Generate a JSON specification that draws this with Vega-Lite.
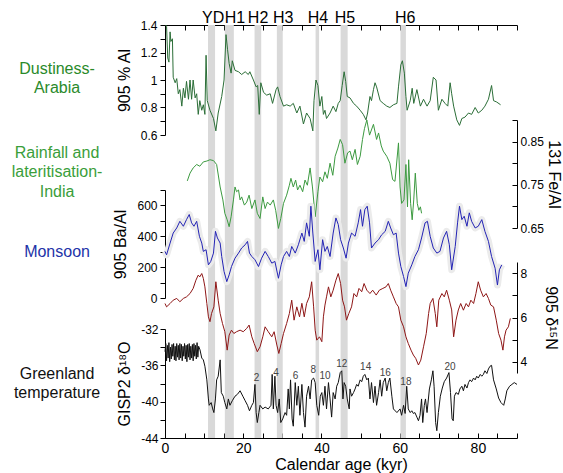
{
"$schema": "https://vega.github.io/schema/vega-lite/v6.json",
"width": 352, "height": 413,
"autosize": {"type": "none"},
"padding": {"left": 165, "top": 25, "right": 46, "bottom": 35},
"config": {"view": {"stroke": null}, "font": "Liberation Sans",
  "axis": {"grid": false, "domainColor": "#000000", "tickColor": "#000000", "domainWidth": 1, "tickWidth": 1, "labelColor": "#000", "titleColor": "#000", "titleFontWeight": "normal", "labelOverlap": false, "labelFlush": false}},
"datasets": {
"bands": [{"a":11.0,"b":12.8},{"a":15.3,"b":17.6},{"a":22.9,"b":24.6},{"a":28.6,"b":30.1},{"a":38.5,"b":39.4},{"a":44.9,"b":46.7},{"a":60.2,"b":61.6}],
"events": [{"x":12.3,"v":1.415,"t":"YD"},{"x":17.9,"v":1.415,"t":"H1"},{"x":23.8,"v":1.415,"t":"H2"},{"x":30.2,"v":1.415,"t":"H3"},{"x":39.1,"v":1.415,"t":"H4"},{"x":46.0,"v":1.415,"t":"H5"},{"x":61.4,"v":1.415,"t":"H6"}],
"dustlab": [{"x":-27.6,"v":1.08,"t":"Dustiness-\nArabia"}],
"felab": [{"x":-27.6,"v":0.824,"t":"Rainfall and\nlateritisation-\nIndia"}],
"balab": [{"x":-27.6,"v":300,"t":"Monsoon"}],
"glab": [{"x":-27.6,"v":-36.96,"t":"Greenland\ntemperature"}],
"gnum": [{"x":23.4,"v":-37.4,"t":"2"},{"x":28.4,"v":-36.85,"t":"4"},{"x":33.4,"v":-37.2,"t":"6"},{"x":37.9,"v":-36.5,"t":"8"},{"x":40.9,"v":-37.2,"t":"10"},{"x":45.2,"v":-35.85,"t":"12"},{"x":51.3,"v":-36.2,"t":"14"},{"x":56.3,"v":-36.85,"t":"16"},{"x":61.6,"v":-37.8,"t":"18"},{"x":72.9,"v":-36.2,"t":"20"}],
"dust": [{"x":0.2,"v":1.4},{"x":0.4,"v":1.39},{"x":0.7,"v":1.16},{"x":1.0,"v":1.13},{"x":1.3,"v":1.35},{"x":1.5,"v":1.28},{"x":1.9,"v":1.3},{"x":2.1,"v":1.02},{"x":2.6,"v":0.98},{"x":3.0,"v":1.01},{"x":3.4,"v":0.9},{"x":3.8,"v":0.93},{"x":4.3,"v":0.81},{"x":4.7,"v":0.94},{"x":5.1,"v":0.87},{"x":5.5,"v":0.99},{"x":6.0,"v":0.86},{"x":6.4,"v":1.0},{"x":6.8,"v":0.86},{"x":7.2,"v":1.0},{"x":7.7,"v":0.87},{"x":8.1,"v":0.9},{"x":8.5,"v":0.75},{"x":8.9,"v":0.85},{"x":9.4,"v":0.78},{"x":9.8,"v":0.82},{"x":10.2,"v":0.75},{"x":10.5,"v":1.18},{"x":10.8,"v":0.85},{"x":11.5,"v":0.78},{"x":12.4,"v":0.72},{"x":13.0,"v":0.63},{"x":13.6,"v":0.76},{"x":14.5,"v":0.88},{"x":15.1,"v":1.0},{"x":15.6,"v":1.33},{"x":16.0,"v":1.22},{"x":16.4,"v":1.12},{"x":16.9,"v":1.05},{"x":17.2,"v":1.14},{"x":17.9,"v":1.07},{"x":18.8,"v":1.06},{"x":19.6,"v":1.04},{"x":20.5,"v":1.06},{"x":21.3,"v":1.04},{"x":21.7,"v":1.06},{"x":22.6,"v":1.0},{"x":23.3,"v":0.95},{"x":23.7,"v":0.96},{"x":24.1,"v":0.75},{"x":24.5,"v":0.98},{"x":25.2,"v":0.91},{"x":26.0,"v":0.89},{"x":26.9,"v":0.9},{"x":27.5,"v":0.83},{"x":28.4,"v":0.93},{"x":28.8,"v":0.95},{"x":29.4,"v":0.88},{"x":30.3,"v":0.81},{"x":31.1,"v":0.82},{"x":32.0,"v":0.81},{"x":32.8,"v":0.83},{"x":33.7,"v":0.76},{"x":34.5,"v":0.81},{"x":35.4,"v":0.68},{"x":36.2,"v":0.76},{"x":37.1,"v":0.72},{"x":37.8,"v":0.63},{"x":38.1,"v":0.85},{"x":38.6,"v":1.0},{"x":39.1,"v":0.96},{"x":39.6,"v":0.81},{"x":40.1,"v":0.88},{"x":40.5,"v":0.75},{"x":40.9,"v":0.78},{"x":41.3,"v":0.72},{"x":42.2,"v":0.76},{"x":43.0,"v":0.81},{"x":43.7,"v":0.77},{"x":44.3,"v":0.83},{"x":44.8,"v":0.85},{"x":45.3,"v":0.96},{"x":45.8,"v":1.06},{"x":46.2,"v":0.99},{"x":46.6,"v":0.88},{"x":47.3,"v":0.87},{"x":48.2,"v":0.83},{"x":49.0,"v":0.81},{"x":49.9,"v":0.78},{"x":50.7,"v":0.75},{"x":51.4,"v":0.71},{"x":51.8,"v":0.76},{"x":52.4,"v":0.88},{"x":52.8,"v":0.85},{"x":53.3,"v":0.93},{"x":53.7,"v":0.98},{"x":54.1,"v":0.95},{"x":55.0,"v":0.85},{"x":55.8,"v":0.83},{"x":56.7,"v":0.81},{"x":57.5,"v":0.8},{"x":58.4,"v":0.82},{"x":59.3,"v":0.83},{"x":59.7,"v":0.95},{"x":60.3,"v":1.11},{"x":60.7,"v":1.14},{"x":61.2,"v":1.05},{"x":61.6,"v":0.88},{"x":61.9,"v":0.78},{"x":62.7,"v":0.85},{"x":63.2,"v":0.94},{"x":63.6,"v":0.83},{"x":64.4,"v":0.93},{"x":65.3,"v":0.81},{"x":66.1,"v":0.86},{"x":67.0,"v":0.81},{"x":67.8,"v":0.85},{"x":68.6,"v":1.02},{"x":69.3,"v":1.0},{"x":69.9,"v":0.78},{"x":70.8,"v":0.86},{"x":71.6,"v":0.83},{"x":72.3,"v":0.81},{"x":72.9,"v":0.98},{"x":73.3,"v":0.9},{"x":73.8,"v":0.81},{"x":74.6,"v":0.71},{"x":75.3,"v":0.67},{"x":75.9,"v":0.72},{"x":76.7,"v":0.73},{"x":77.6,"v":0.76},{"x":78.4,"v":0.75},{"x":79.3,"v":0.8},{"x":80.1,"v":0.76},{"x":81.0,"v":0.78},{"x":81.8,"v":0.81},{"x":82.7,"v":0.86},{"x":83.5,"v":0.96},{"x":84.0,"v":0.85},{"x":84.8,"v":0.84},{"x":85.8,"v":0.82}],
"fe": [{"x":5.7,"v":0.759},{"x":6.4,"v":0.777},{"x":7.2,"v":0.789},{"x":8.1,"v":0.797},{"x":8.9,"v":0.793},{"x":9.8,"v":0.803},{"x":10.7,"v":0.805},{"x":11.5,"v":0.808},{"x":12.4,"v":0.806},{"x":13.2,"v":0.797},{"x":14.1,"v":0.745},{"x":14.8,"v":0.715},{"x":15.3,"v":0.684},{"x":15.9,"v":0.669},{"x":16.4,"v":0.653},{"x":16.9,"v":0.676},{"x":17.5,"v":0.715},{"x":17.9,"v":0.745},{"x":18.3,"v":0.734},{"x":18.8,"v":0.738},{"x":19.2,"v":0.715},{"x":19.6,"v":0.722},{"x":20.3,"v":0.703},{"x":20.9,"v":0.71},{"x":21.5,"v":0.726},{"x":22.2,"v":0.695},{"x":23.0,"v":0.715},{"x":23.6,"v":0.684},{"x":24.3,"v":0.672},{"x":25.0,"v":0.722},{"x":25.6,"v":0.695},{"x":26.2,"v":0.71},{"x":26.9,"v":0.703},{"x":27.7,"v":0.715},{"x":28.3,"v":0.691},{"x":29.0,"v":0.649},{"x":29.6,"v":0.672},{"x":30.3,"v":0.707},{"x":31.1,"v":0.726},{"x":31.8,"v":0.749},{"x":32.2,"v":0.765},{"x":32.8,"v":0.745},{"x":33.4,"v":0.761},{"x":33.9,"v":0.738},{"x":34.5,"v":0.749},{"x":35.2,"v":0.734},{"x":35.8,"v":0.761},{"x":36.4,"v":0.749},{"x":37.1,"v":0.789},{"x":37.7,"v":0.745},{"x":38.4,"v":0.676},{"x":39.1,"v":0.734},{"x":39.6,"v":0.768},{"x":40.3,"v":0.757},{"x":40.9,"v":0.78},{"x":41.5,"v":0.765},{"x":42.2,"v":0.8},{"x":42.9,"v":0.772},{"x":43.5,"v":0.816},{"x":44.2,"v":0.835},{"x":44.8,"v":0.855},{"x":45.4,"v":0.843},{"x":46.0,"v":0.8},{"x":46.7,"v":0.824},{"x":47.3,"v":0.828},{"x":47.9,"v":0.808},{"x":48.6,"v":0.832},{"x":49.2,"v":0.797},{"x":49.9,"v":0.816},{"x":50.5,"v":0.855},{"x":51.0,"v":0.88},{"x":51.6,"v":0.9},{"x":52.3,"v":0.865},{"x":53.3,"v":0.89},{"x":54.1,"v":0.855},{"x":54.6,"v":0.87},{"x":55.3,"v":0.84},{"x":55.8,"v":0.828},{"x":56.7,"v":0.816},{"x":57.5,"v":0.8},{"x":58.2,"v":0.762},{"x":58.8,"v":0.758},{"x":59.7,"v":0.847},{"x":60.1,"v":0.745},{"x":60.5,"v":0.707},{"x":61.1,"v":0.715},{"x":61.6,"v":0.797},{"x":62.0,"v":0.699},{"x":62.3,"v":0.808},{"x":62.8,"v":0.707},{"x":63.2,"v":0.669},{"x":63.6,"v":0.715},{"x":64.0,"v":0.777},{"x":64.5,"v":0.707},{"x":64.9,"v":0.691},{"x":65.3,"v":0.699},{"x":65.6,"v":0.684}],
"ba": [{"x":0,"v":302},{"x":0.4,"v":280},{"x":1.3,"v":356},{"x":2.1,"v":421},{"x":3.0,"v":454},{"x":3.8,"v":497},{"x":4.7,"v":465},{"x":5.5,"v":508},{"x":6.2,"v":541},{"x":6.8,"v":487},{"x":7.4,"v":465},{"x":8.1,"v":497},{"x":8.8,"v":400},{"x":9.4,"v":356},{"x":9.8,"v":302},{"x":10.5,"v":313},{"x":11.1,"v":215},{"x":11.7,"v":237},{"x":12.4,"v":291},{"x":12.9,"v":432},{"x":13.4,"v":389},{"x":14.1,"v":356},{"x":14.5,"v":269},{"x":15.1,"v":172},{"x":15.8,"v":106},{"x":16.4,"v":150},{"x":17.0,"v":204},{"x":17.9,"v":258},{"x":18.8,"v":291},{"x":19.6,"v":324},{"x":20.5,"v":345},{"x":21.1,"v":367},{"x":21.6,"v":291},{"x":22.2,"v":269},{"x":23.0,"v":248},{"x":23.9,"v":204},{"x":24.7,"v":258},{"x":25.6,"v":302},{"x":26.4,"v":269},{"x":27.3,"v":226},{"x":28.1,"v":237},{"x":29.0,"v":128},{"x":29.7,"v":215},{"x":30.3,"v":269},{"x":31.1,"v":302},{"x":31.8,"v":269},{"x":32.4,"v":334},{"x":33.3,"v":291},{"x":34.1,"v":345},{"x":35.0,"v":421},{"x":35.6,"v":367},{"x":36.2,"v":487},{"x":36.9,"v":400},{"x":37.3,"v":595},{"x":37.8,"v":421},{"x":38.4,"v":237},{"x":39.1,"v":313},{"x":39.6,"v":183},{"x":40.3,"v":378},{"x":40.9,"v":302},{"x":41.5,"v":334},{"x":42.2,"v":269},{"x":43.0,"v":421},{"x":43.7,"v":519},{"x":44.3,"v":476},{"x":44.9,"v":378},{"x":45.6,"v":324},{"x":46.3,"v":258},{"x":46.9,"v":356},{"x":47.7,"v":421},{"x":48.6,"v":400},{"x":49.4,"v":487},{"x":50.0,"v":573},{"x":50.5,"v":465},{"x":51.1,"v":573},{"x":51.7,"v":595},{"x":52.3,"v":487},{"x":52.8,"v":324},{"x":53.7,"v":356},{"x":54.6,"v":378},{"x":55.4,"v":410},{"x":56.3,"v":432},{"x":57.1,"v":497},{"x":57.7,"v":454},{"x":58.4,"v":410},{"x":59.1,"v":421},{"x":59.7,"v":291},{"x":60.3,"v":204},{"x":61.0,"v":139},{"x":61.6,"v":74},{"x":62.2,"v":161},{"x":63.1,"v":215},{"x":63.9,"v":269},{"x":64.8,"v":313},{"x":65.6,"v":389},{"x":66.5,"v":487},{"x":67.1,"v":497},{"x":67.8,"v":400},{"x":68.6,"v":324},{"x":69.5,"v":291},{"x":70.3,"v":302},{"x":71.2,"v":389},{"x":72.0,"v":432},{"x":72.7,"v":345},{"x":73.3,"v":183},{"x":74.2,"v":334},{"x":74.8,"v":487},{"x":75.3,"v":595},{"x":75.9,"v":508},{"x":76.5,"v":530},{"x":77.2,"v":465},{"x":77.8,"v":552},{"x":78.4,"v":497},{"x":79.3,"v":454},{"x":80.1,"v":465},{"x":81.0,"v":508},{"x":81.8,"v":432},{"x":82.7,"v":367},{"x":83.5,"v":269},{"x":84.4,"v":193},{"x":85.0,"v":84},{"x":85.5,"v":183},{"x":86.1,"v":215}],
"n15": [{"x":0,"v":6.63},{"x":0.4,"v":6.48},{"x":1.3,"v":6.63},{"x":2.1,"v":6.78},{"x":3.0,"v":6.86},{"x":3.8,"v":6.71},{"x":4.7,"v":6.86},{"x":5.5,"v":6.93},{"x":6.4,"v":7.08},{"x":7.2,"v":7.31},{"x":7.9,"v":7.68},{"x":8.5,"v":7.91},{"x":8.9,"v":7.83},{"x":9.4,"v":7.98},{"x":9.8,"v":7.76},{"x":10.2,"v":7.38},{"x":10.7,"v":6.63},{"x":11.1,"v":6.03},{"x":11.5,"v":5.81},{"x":11.9,"v":6.18},{"x":12.5,"v":6.48},{"x":13.0,"v":7.61},{"x":13.6,"v":6.78},{"x":14.1,"v":6.18},{"x":14.7,"v":5.73},{"x":15.3,"v":5.36},{"x":15.9,"v":4.53},{"x":16.4,"v":5.21},{"x":17.0,"v":5.43},{"x":17.6,"v":5.28},{"x":18.3,"v":5.36},{"x":19.2,"v":5.43},{"x":20.0,"v":5.36},{"x":20.9,"v":5.51},{"x":21.5,"v":5.66},{"x":22.2,"v":5.13},{"x":22.8,"v":4.83},{"x":23.6,"v":4.46},{"x":24.3,"v":4.68},{"x":25.0,"v":5.13},{"x":25.6,"v":5.58},{"x":26.4,"v":5.36},{"x":27.3,"v":5.13},{"x":27.9,"v":5.36},{"x":28.6,"v":4.76},{"x":29.1,"v":4.38},{"x":29.7,"v":4.83},{"x":30.3,"v":5.28},{"x":31.1,"v":5.73},{"x":31.8,"v":6.18},{"x":32.4,"v":6.78},{"x":33.0,"v":5.88},{"x":33.7,"v":6.48},{"x":34.4,"v":6.03},{"x":35.0,"v":6.64},{"x":35.6,"v":6.03},{"x":36.2,"v":6.63},{"x":36.9,"v":6.93},{"x":37.5,"v":7.61},{"x":38.0,"v":6.48},{"x":38.4,"v":5.43},{"x":38.8,"v":4.98},{"x":39.5,"v":5.13},{"x":40.1,"v":4.91},{"x":40.5,"v":6.03},{"x":40.9,"v":6.56},{"x":41.3,"v":6.93},{"x":41.8,"v":7.38},{"x":42.4,"v":6.93},{"x":43.0,"v":7.23},{"x":43.7,"v":7.68},{"x":44.3,"v":7.98},{"x":44.9,"v":7.53},{"x":45.4,"v":6.78},{"x":45.9,"v":6.48},{"x":46.4,"v":5.88},{"x":47.0,"v":6.18},{"x":47.7,"v":6.48},{"x":48.3,"v":7.08},{"x":49.0,"v":6.93},{"x":49.6,"v":7.31},{"x":50.3,"v":7.16},{"x":50.9,"v":7.53},{"x":51.6,"v":7.23},{"x":52.4,"v":7.08},{"x":53.1,"v":7.23},{"x":54.0,"v":7.01},{"x":54.8,"v":7.23},{"x":55.7,"v":7.31},{"x":56.5,"v":7.38},{"x":57.1,"v":7.53},{"x":57.7,"v":7.23},{"x":58.4,"v":6.93},{"x":59.1,"v":6.63},{"x":59.7,"v":6.48},{"x":60.3,"v":5.88},{"x":61.0,"v":5.58},{"x":61.6,"v":5.13},{"x":62.2,"v":4.83},{"x":62.9,"v":4.53},{"x":63.5,"v":4.31},{"x":64.1,"v":4.16},{"x":64.8,"v":3.86},{"x":65.4,"v":4.08},{"x":66.1,"v":4.68},{"x":66.8,"v":5.28},{"x":67.4,"v":6.18},{"x":67.8,"v":6.63},{"x":68.5,"v":6.86},{"x":69.1,"v":6.18},{"x":69.5,"v":5.58},{"x":70.0,"v":6.78},{"x":70.8,"v":7.08},{"x":71.4,"v":6.93},{"x":72.0,"v":7.23},{"x":72.7,"v":6.78},{"x":73.3,"v":6.34},{"x":73.8,"v":5.13},{"x":74.4,"v":5.88},{"x":75.0,"v":6.34},{"x":75.6,"v":6.63},{"x":76.3,"v":6.33},{"x":77.0,"v":6.63},{"x":77.6,"v":6.48},{"x":78.2,"v":6.78},{"x":78.9,"v":6.63},{"x":79.5,"v":7.08},{"x":80.1,"v":7.61},{"x":80.7,"v":7.23},{"x":81.4,"v":6.93},{"x":82.1,"v":7.08},{"x":82.7,"v":6.86},{"x":83.3,"v":6.56},{"x":84.0,"v":6.48},{"x":84.7,"v":5.88},{"x":85.3,"v":5.28},{"x":85.9,"v":4.98},{"x":86.4,"v":4.53},{"x":86.8,"v":5.13},{"x":87.2,"v":5.43},{"x":87.8,"v":5.58},{"x":88.3,"v":5.96}],
"gisp": [{"x":0,"v":-34.5},{"x":0.2,"v":-33.6},{"x":0.4,"v":-35.5},{"x":0.6,"v":-33.8},{"x":0.8,"v":-35.2},{"x":1.0,"v":-33.5},{"x":1.2,"v":-35.6},{"x":1.4,"v":-34.0},{"x":1.6,"v":-35.3},{"x":1.8,"v":-33.7},{"x":2.0,"v":-35.0},{"x":2.2,"v":-33.6},{"x":2.4,"v":-35.4},{"x":2.6,"v":-33.9},{"x":2.8,"v":-35.5},{"x":3.0,"v":-33.6},{"x":3.2,"v":-35.1},{"x":3.4,"v":-33.8},{"x":3.6,"v":-35.4},{"x":3.8,"v":-33.6},{"x":4.0,"v":-35.2},{"x":4.2,"v":-33.7},{"x":4.4,"v":-35.5},{"x":4.6,"v":-33.9},{"x":4.8,"v":-35.0},{"x":5.0,"v":-33.6},{"x":5.2,"v":-35.3},{"x":5.4,"v":-33.8},{"x":5.6,"v":-35.6},{"x":5.8,"v":-33.7},{"x":6.0,"v":-35.1},{"x":6.2,"v":-33.6},{"x":6.4,"v":-35.4},{"x":6.6,"v":-33.9},{"x":6.8,"v":-35.2},{"x":7.0,"v":-33.7},{"x":7.2,"v":-35.5},{"x":7.4,"v":-33.6},{"x":7.6,"v":-35.0},{"x":7.8,"v":-33.8},{"x":8.0,"v":-35.3},{"x":8.2,"v":-33.5},{"x":8.4,"v":-35.1},{"x":8.6,"v":-33.9},{"x":8.95,"v":-34.3},{"x":9.4,"v":-35.2},{"x":9.8,"v":-35.4},{"x":10.2,"v":-36.1},{"x":10.7,"v":-37.6},{"x":11.1,"v":-39.7},{"x":11.3,"v":-40.4},{"x":11.8,"v":-40.1},{"x":12.2,"v":-40.8},{"x":12.5,"v":-41.2},{"x":12.9,"v":-39.7},{"x":13.2,"v":-37.6},{"x":13.6,"v":-37.2},{"x":14.1,"v":-35.4},{"x":14.4,"v":-39.0},{"x":14.9,"v":-39.4},{"x":15.3,"v":-40.1},{"x":15.8,"v":-40.8},{"x":16.2,"v":-39.7},{"x":16.6,"v":-40.4},{"x":17.2,"v":-39.9},{"x":17.9,"v":-39.4},{"x":18.5,"v":-39.2},{"x":19.2,"v":-38.8},{"x":19.9,"v":-39.4},{"x":20.5,"v":-39.9},{"x":21.1,"v":-40.4},{"x":21.6,"v":-41.0},{"x":22.2,"v":-40.4},{"x":22.6,"v":-40.1},{"x":23.0,"v":-38.1},{"x":23.3,"v":-41.2},{"x":23.6,"v":-42.3},{"x":24.0,"v":-41.2},{"x":24.3,"v":-40.4},{"x":25.0,"v":-40.8},{"x":25.6,"v":-40.6},{"x":26.4,"v":-40.8},{"x":27.1,"v":-40.4},{"x":27.4,"v":-37.0},{"x":27.7,"v":-40.8},{"x":28.1,"v":-37.2},{"x":28.4,"v":-40.4},{"x":28.8,"v":-41.2},{"x":29.2,"v":-39.7},{"x":29.6,"v":-42.3},{"x":30.1,"v":-41.9},{"x":30.7,"v":-41.2},{"x":31.1,"v":-41.5},{"x":31.5,"v":-38.6},{"x":31.8,"v":-40.8},{"x":32.1,"v":-37.6},{"x":32.5,"v":-41.9},{"x":32.8,"v":-42.7},{"x":33.3,"v":-37.9},{"x":33.7,"v":-40.4},{"x":34.1,"v":-38.3},{"x":34.5,"v":-41.5},{"x":35.0,"v":-38.1},{"x":35.4,"v":-41.2},{"x":35.8,"v":-42.8},{"x":36.2,"v":-39.4},{"x":36.7,"v":-38.3},{"x":37.1,"v":-39.7},{"x":37.5,"v":-37.6},{"x":38.0,"v":-37.4},{"x":38.4,"v":-37.9},{"x":38.8,"v":-40.4},{"x":39.3,"v":-41.5},{"x":39.7,"v":-39.4},{"x":40.1,"v":-39.0},{"x":40.5,"v":-40.4},{"x":40.9,"v":-38.3},{"x":41.3,"v":-40.8},{"x":41.8,"v":-37.9},{"x":42.2,"v":-39.7},{"x":42.6,"v":-41.7},{"x":43.0,"v":-39.0},{"x":43.5,"v":-39.7},{"x":43.9,"v":-38.3},{"x":44.3,"v":-37.9},{"x":44.8,"v":-36.8},{"x":45.2,"v":-36.6},{"x":45.5,"v":-39.7},{"x":45.8,"v":-37.9},{"x":46.2,"v":-38.3},{"x":46.6,"v":-39.7},{"x":47.1,"v":-40.8},{"x":47.3,"v":-38.6},{"x":47.7,"v":-39.4},{"x":48.2,"v":-39.0},{"x":48.6,"v":-38.6},{"x":49.0,"v":-38.1},{"x":49.4,"v":-38.3},{"x":49.9,"v":-37.6},{"x":50.3,"v":-37.8},{"x":50.7,"v":-37.2},{"x":51.1,"v":-37.0},{"x":51.6,"v":-37.6},{"x":52.0,"v":-37.4},{"x":52.4,"v":-39.7},{"x":52.8,"v":-37.9},{"x":53.3,"v":-40.1},{"x":53.7,"v":-38.3},{"x":54.1,"v":-40.4},{"x":54.6,"v":-39.0},{"x":55.0,"v":-37.6},{"x":55.4,"v":-39.4},{"x":55.8,"v":-37.9},{"x":56.3,"v":-37.4},{"x":56.7,"v":-38.8},{"x":57.1,"v":-37.9},{"x":57.5,"v":-37.4},{"x":58.0,"v":-39.4},{"x":58.4,"v":-40.8},{"x":59.3,"v":-41.2},{"x":60.1,"v":-40.8},{"x":60.5,"v":-41.5},{"x":61.0,"v":-40.4},{"x":61.4,"v":-41.3},{"x":61.8,"v":-38.3},{"x":62.2,"v":-40.8},{"x":62.7,"v":-41.2},{"x":63.1,"v":-41.0},{"x":63.5,"v":-41.3},{"x":63.9,"v":-41.2},{"x":64.4,"v":-41.7},{"x":64.8,"v":-42.1},{"x":65.2,"v":-41.5},{"x":65.6,"v":-39.7},{"x":65.9,"v":-42.3},{"x":66.3,"v":-40.4},{"x":66.6,"v":-39.7},{"x":67.0,"v":-41.2},{"x":67.6,"v":-38.6},{"x":68.1,"v":-37.6},{"x":68.5,"v":-36.6},{"x":68.8,"v":-38.3},{"x":69.2,"v":-42.3},{"x":69.5,"v":-43.2},{"x":69.9,"v":-41.2},{"x":70.4,"v":-39.4},{"x":70.9,"v":-38.5},{"x":71.4,"v":-37.8},{"x":72.0,"v":-37.4},{"x":72.6,"v":-36.8},{"x":73.0,"v":-39.0},{"x":73.4,"v":-41.9},{"x":73.7,"v":-42.1},{"x":74.0,"v":-39.4},{"x":74.4,"v":-39.0},{"x":75.0,"v":-39.2},{"x":75.4,"v":-38.6},{"x":75.9,"v":-38.3},{"x":76.3,"v":-38.8},{"x":76.7,"v":-38.1},{"x":77.2,"v":-38.5},{"x":77.6,"v":-37.9},{"x":78.0,"v":-37.6},{"x":78.4,"v":-37.8},{"x":78.9,"v":-37.4},{"x":79.3,"v":-37.6},{"x":79.7,"v":-37.2},{"x":80.1,"v":-37.4},{"x":80.6,"v":-37.0},{"x":81.0,"v":-37.2},{"x":81.4,"v":-37.0},{"x":81.8,"v":-36.6},{"x":82.3,"v":-36.9},{"x":82.7,"v":-36.4},{"x":83.1,"v":-36.1},{"x":83.5,"v":-36.0},{"x":84.0,"v":-37.6},{"x":84.7,"v":-38.6},{"x":85.3,"v":-39.6},{"x":85.9,"v":-40.1},{"x":86.6,"v":-40.4},{"x":87.0,"v":-39.7},{"x":87.4,"v":-38.8},{"x":88.1,"v":-38.3},{"x":88.7,"v":-38.1},{"x":89.3,"v":-37.9},{"x":90.0,"v":-38.1}]
},
"resolve": {"scale": {"y": "independent"}, "axis": {"x": "independent", "y": "independent"}},
"layer": [
{"data": {"name": "bands"}, "mark": {"type": "rect", "color": "#d9d9d9"},
 "encoding": {"x": {"field": "a", "type": "quantitative", "scale": {"domain": [0, 90], "nice": false, "zero": false},
   "axis": {"orient": "bottom", "values": [0,5,10,15,20,25,30,35,40,45,50,55,60,65,70,75,80,85,90], "labelExpr": "datum.value % 20 == 0 ? datum.label : ''", "tickSize": -5, "labelPadding": 8, "labelFontSize": 14, "title": "Calendar age (kyr)", "titleFontSize": 16, "titlePadding": 1}},
  "x2": {"field": "b"}}},
{"data": {"name": "events"}, "mark": {"type": "text", "fontSize": 16, "baseline": "alphabetic", "align": "center", "color": "#000"},
 "encoding": {"x": {"field": "x", "type": "quantitative", "scale": {"domain": [0, 90], "nice": false, "zero": false},
   "axis": {"orient": "top", "values": [0,5,10,15,20,25,30,35,40,45,50,55,60,65,70,75,80,85,90], "labels": false, "tickSize": -5, "title": null}},
  "y": {"field": "v", "type": "quantitative", "scale": {"domain": [0.6, 1.4], "range": [110, 0], "nice": false, "zero": false}, "axis": null}, "text": {"field": "t"}}},
{"data": {"name": "dust"}, "mark": {"type": "line", "color": "#2b6e37", "strokeWidth": 1},
 "encoding": {"x": {"field": "x", "type": "quantitative", "scale": {"domain": [0, 90], "nice": false, "zero": false}, "axis": null},
  "y": {"field": "v", "type": "quantitative", "scale": {"domain": [0.6, 1.4], "range": [110, 0], "nice": false, "zero": false},
   "axis": {"orient": "left", "values": [0.6,0.7,0.8,0.9,1,1.1,1.2,1.3,1.4], "format": "~g", "labelExpr": "round(datum.value*10) % 2 == 0 ? datum.label : ''", "tickSize": 5, "labelPadding": 3, "labelFontSize": 12, "title": "905 % Al", "titleFontSize": 16, "titlePadding": 8}}}},
{"data": {"name": "dustlab"}, "mark": {"type": "text", "fontSize": 16, "baseline": "middle", "align": "center", "color": "#2a8a2a", "lineBreak": "\n", "lineHeight": 19},
 "encoding": {"x": {"field": "x", "type": "quantitative", "scale": {"domain": [0, 90], "nice": false, "zero": false}, "axis": null},
  "y": {"field": "v", "type": "quantitative", "scale": {"domain": [0.6, 1.4], "range": [110, 0], "nice": false, "zero": false}, "axis": null}, "text": {"field": "t"}}},
{"data": {"name": "fe"}, "mark": {"type": "line", "color": "#3c9a40", "strokeWidth": 1},
 "encoding": {"x": {"field": "x", "type": "quantitative", "scale": {"domain": [0, 90], "nice": false, "zero": false}, "axis": null},
  "y": {"field": "v", "type": "quantitative", "scale": {"domain": [0.65, 0.9], "range": [203, 95], "nice": false, "zero": false},
   "axis": {"orient": "right", "values": [0.65,0.7,0.75,0.8,0.85,0.9], "labelExpr": "round(datum.value*100) % 10 == 5 ? format(datum.value, '.2f') : ''", "tickSize": -5, "labelPadding": 8, "labelFontSize": 12, "title": "131 Fe/Al", "titleFontSize": 16, "titlePadding": 2}}}},
{"data": {"name": "felab"}, "mark": {"type": "text", "fontSize": 16, "baseline": "middle", "align": "center", "color": "#3a9e3a", "lineBreak": "\n", "lineHeight": 19.5},
 "encoding": {"x": {"field": "x", "type": "quantitative", "scale": {"domain": [0, 90], "nice": false, "zero": false}, "axis": null},
  "y": {"field": "v", "type": "quantitative", "scale": {"domain": [0.65, 0.9], "range": [203, 95], "nice": false, "zero": false}, "axis": null}, "text": {"field": "t"}}},
{"data": {"name": "ba"}, "mark": {"type": "line", "color": "#ebebeb", "strokeWidth": 7, "strokeJoin": "round"},
 "encoding": {"x": {"field": "x", "type": "quantitative", "scale": {"domain": [0, 90], "nice": false, "zero": false}, "axis": null},
  "y": {"field": "v", "type": "quantitative", "scale": {"domain": [0, 700], "range": [273, 165], "nice": false, "zero": false}, "axis": null}}},
{"data": {"name": "ba"}, "mark": {"type": "line", "color": "#2323b5", "strokeWidth": 1},
 "encoding": {"x": {"field": "x", "type": "quantitative", "scale": {"domain": [0, 90], "nice": false, "zero": false}, "axis": null},
  "y": {"field": "v", "type": "quantitative", "scale": {"domain": [0, 700], "range": [273, 165], "nice": false, "zero": false},
   "axis": {"orient": "left", "values": [0,100,200,300,400,500,600,700], "labelExpr": "datum.value % 200 == 0 ? '' + datum.value : ''", "tickSize": 5, "labelPadding": 3, "labelFontSize": 12, "title": "905 Ba/Al", "titleFontSize": 16, "titlePadding": 8}}}},
{"data": {"name": "balab"}, "mark": {"type": "text", "fontSize": 16, "baseline": "middle", "align": "center", "color": "#2233a8"},
 "encoding": {"x": {"field": "x", "type": "quantitative", "scale": {"domain": [0, 90], "nice": false, "zero": false}, "axis": null},
  "y": {"field": "v", "type": "quantitative", "scale": {"domain": [0, 700], "range": [273, 165], "nice": false, "zero": false}, "axis": null}, "text": {"field": "t"}}},
{"data": {"name": "n15"}, "mark": {"type": "line", "color": "#8e1616", "strokeWidth": 1},
 "encoding": {"x": {"field": "x", "type": "quantitative", "scale": {"domain": [0, 90], "nice": false, "zero": false}, "axis": null},
  "y": {"field": "v", "type": "quantitative", "scale": {"domain": [3.5, 8.5], "range": [348, 237], "nice": false, "zero": false},
   "axis": {"orient": "right", "values": [4,5,6,7,8], "labelExpr": "datum.value % 2 == 0 ? datum.label : ''", "tickSize": -5, "labelPadding": 8, "labelFontSize": 12, "title": "905  δ¹⁵N", "titleFontSize": 16, "titlePadding": 16}}}},
{"data": {"name": "gisp"}, "mark": {"type": "line", "color": "#111111", "strokeWidth": 1},
 "encoding": {"x": {"field": "x", "type": "quantitative", "scale": {"domain": [0, 90], "nice": false, "zero": false}, "axis": null},
  "y": {"field": "v", "type": "quantitative", "scale": {"domain": [-44, -32], "range": [413, 304], "nice": false, "zero": false},
   "axis": {"orient": "left", "values": [-44,-42,-40,-38,-36,-34,-32], "labelExpr": "datum.value % 4 == 0 ? '' + datum.value : ''", "tickSize": 5, "labelPadding": 2, "labelFontSize": 12, "title": "GISP2 δ¹⁸O", "titleFontSize": 16, "titlePadding": 8}}}},
{"data": {"name": "gnum"}, "mark": {"type": "text", "fontSize": 10, "baseline": "middle", "align": "center", "color": "#444444"},
 "encoding": {"x": {"field": "x", "type": "quantitative", "scale": {"domain": [0, 90], "nice": false, "zero": false}, "axis": null},
  "y": {"field": "v", "type": "quantitative", "scale": {"domain": [-44, -32], "range": [413, 304], "nice": false, "zero": false}, "axis": null}, "text": {"field": "t"}}},
{"data": {"name": "glab"}, "mark": {"type": "text", "fontSize": 16, "baseline": "middle", "align": "center", "color": "#111111", "lineBreak": "\n", "lineHeight": 19},
 "encoding": {"x": {"field": "x", "type": "quantitative", "scale": {"domain": [0, 90], "nice": false, "zero": false}, "axis": null},
  "y": {"field": "v", "type": "quantitative", "scale": {"domain": [-44, -32], "range": [413, 304], "nice": false, "zero": false}, "axis": null}, "text": {"field": "t"}}}
]
}
